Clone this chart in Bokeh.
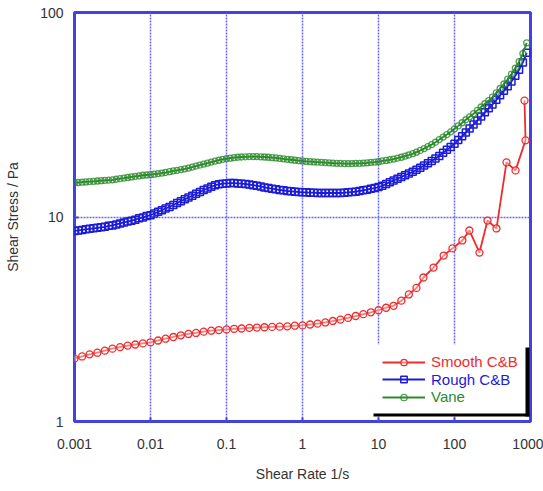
from bokeh.plotting import figure
from bokeh.models import (Range1d, FixedTicker, CustomJSTickFormatter, Legend,
                          LegendItem, BoxAnnotation)
from bokeh.embed import file_html
from bokeh.resources import INLINE

# ---- data ----
shear_rate = [
    0.001, 0.00112, 0.00126, 0.00141, 0.00158, 0.00178, 0.002, 0.00224, 0.00251, 0.00282,
    0.00316, 0.00355, 0.00398, 0.00447, 0.00501, 0.00562, 0.00631, 0.00708, 0.00794, 0.00891,
    0.01, 0.0112, 0.0126, 0.0141, 0.0158, 0.0178, 0.02, 0.0224, 0.0251, 0.0282,
    0.0316, 0.0355, 0.0398, 0.0447, 0.0501, 0.0562, 0.0631, 0.0708, 0.0794, 0.0891,
    0.1, 0.112, 0.126, 0.141, 0.158, 0.178, 0.2, 0.224, 0.251, 0.282,
    0.316, 0.355, 0.398, 0.447, 0.501, 0.562, 0.631, 0.708, 0.794, 0.891,
    1.0, 1.12, 1.26, 1.41, 1.58, 1.78, 2.0, 2.24, 2.51, 2.82,
    3.16, 3.55, 3.98, 4.47, 5.01, 5.62, 6.31, 7.08, 7.94, 8.91,
    10.0, 11.2, 12.6, 14.1, 15.8, 17.8, 20.0, 22.4, 25.1, 28.2,
    31.6, 35.5, 39.8, 44.7, 50.1, 56.2, 63.1, 70.8, 79.4, 89.1,
    100.0, 112.0, 126.0, 141.0, 158.0, 178.0, 200.0, 224.0, 251.0, 282.0,
    316.0, 355.0, 398.0, 447.0, 501.0, 562.0, 631.0, 708.0, 794.0, 891.0,
]
vane_stress = [
    14.7, 14.75, 14.8, 14.85, 14.9, 14.95, 15.0, 15.05, 15.1, 15.15,
    15.2, 15.3, 15.4, 15.5, 15.6, 15.7, 15.8, 15.9, 16.0, 16.05,
    16.1, 16.2, 16.3, 16.4, 16.5, 16.65, 16.8, 16.9, 17.05, 17.2,
    17.35, 17.55, 17.75, 17.95, 18.15, 18.35, 18.55, 18.75, 18.95, 19.15,
    19.3, 19.4, 19.5, 19.6, 19.65, 19.7, 19.75, 19.75, 19.75, 19.7,
    19.65, 19.6, 19.5, 19.45, 19.35, 19.25, 19.15, 19.05, 18.95, 18.85,
    18.8, 18.7, 18.65, 18.6, 18.55, 18.5, 18.45, 18.4, 18.35, 18.3,
    18.3, 18.25, 18.25, 18.25, 18.3, 18.3, 18.35, 18.4, 18.5, 18.55,
    18.65, 18.8, 18.9, 19.05, 19.2, 19.4, 19.6, 19.85, 20.1, 20.4,
    20.75, 21.15, 21.6, 22.1, 22.6, 23.2, 23.9, 24.6, 25.3, 26.1,
    27.0, 27.9, 28.9, 29.9, 30.9, 32.0, 33.2, 34.5, 35.8, 37.1,
    38.6, 40.5, 42.5, 44.7, 47.2, 50.0, 53.5, 57.5, 63.0, 71.0,
]
rough_stress = [
    8.55, 8.6, 8.65, 8.7, 8.75, 8.8, 8.85, 8.9, 8.95, 9.05,
    9.1, 9.2, 9.3, 9.4, 9.5, 9.6, 9.7, 9.85, 9.95, 10.1,
    10.2, 10.4, 10.6, 10.8, 11.0, 11.2, 11.45, 11.7, 11.95, 12.2,
    12.45, 12.7, 13.0, 13.25, 13.55, 13.8, 14.05, 14.3, 14.45, 14.55,
    14.6, 14.65, 14.65, 14.6, 14.55, 14.5, 14.4, 14.3, 14.2, 14.1,
    13.95, 13.85, 13.75, 13.65, 13.55, 13.5, 13.4, 13.35, 13.3, 13.25,
    13.2, 13.2, 13.15, 13.15, 13.1, 13.1, 13.1, 13.1, 13.1, 13.1,
    13.1, 13.15, 13.2, 13.25, 13.3, 13.4, 13.5, 13.6, 13.75, 13.85,
    14.0, 14.2, 14.5, 14.8, 15.1, 15.4, 15.7, 16.0, 16.3, 16.65,
    17.0, 17.4, 17.85, 18.3, 18.8, 19.3, 19.9, 20.6, 21.3, 22.0,
    22.8, 23.8, 24.8, 25.9, 27.1, 28.3, 29.6, 31.0, 32.5, 34.0,
    35.5, 37.4, 39.4, 41.4, 43.6, 46.0, 49.0, 52.5, 57.0, 63.5,
]
smooth_rate = [
    0.001, 0.00126, 0.00158, 0.002, 0.00251, 0.00316, 0.00398, 0.00501, 0.00631, 0.00794,
    0.01, 0.0126, 0.0158, 0.02, 0.0251, 0.0316, 0.0398, 0.0501, 0.0631, 0.0794,
    0.1, 0.126, 0.158, 0.2, 0.251, 0.316, 0.398, 0.501, 0.631, 0.794,
    1.0, 1.26, 1.58, 2.0, 2.51, 3.16, 3.98, 5.01, 6.31, 7.94,
    10.0, 12.6, 15.8, 20.0, 25.1, 31.6,
    39.0, 53.0, 72.0, 94.0, 127.0, 157.0, 213.0, 272.0, 357.0, 483.0, 635.0, 860.0, 834.0,
]
smooth_stress = [
    2.03, 2.08, 2.13, 2.17, 2.22, 2.27, 2.31, 2.35, 2.38, 2.41,
    2.44, 2.49, 2.54, 2.59, 2.64, 2.68, 2.71, 2.75, 2.78, 2.80,
    2.82, 2.84, 2.85, 2.87, 2.88, 2.89, 2.90, 2.91, 2.92, 2.94,
    2.95, 2.98, 3.01, 3.05, 3.10, 3.15, 3.21, 3.28, 3.35, 3.42,
    3.50, 3.60, 3.68, 3.90, 4.18, 4.50,
    5.06, 5.66, 6.48, 7.02, 7.68, 8.59, 6.70, 9.61, 8.79, 18.5, 16.9, 23.7, 37.1,
]
x_ticks = [0.001, 0.01, 0.1, 1, 10, 100, 1000]
y_ticks = [1, 10, 100]
series_names = ["Smooth C&B", "Rough C&B", "Vane"]
x_title = "Shear Rate 1/s"
y_title = "Shear Stress / Pa"

# ---- styles ----
FRAME_BLUE = "#4242e0"
GRID_BLUE = "#6a6af2"
RED = "#ee2c2c"
BLUE = "#1c1cd8"
GREEN = "#2c8a2c"
FONT = "Liberation Sans"

p = figure(width=543, height=491, x_axis_type="log", y_axis_type="log",
           x_range=Range1d(0.001, 1000), y_range=Range1d(1, 100),
           output_backend="svg", toolbar_location=None,
           min_border_left=74, min_border_right=13, min_border_top=12,
           min_border_bottom=70, background_fill_color="white",
           border_fill_color="white")

p.outline_line_color = FRAME_BLUE
p.outline_line_width = 3

fmt = CustomJSTickFormatter(code="return String(Number(tick.toPrecision(6)));")
for ax, ticks in ((p.xaxis[0], x_ticks), (p.yaxis[0], y_ticks)):
    ax.ticker = FixedTicker(ticks=ticks, minor_ticks=[])
    ax.formatter = fmt
    ax.axis_line_color = None
    ax.major_tick_in = 4
    ax.major_tick_out = 0
    ax.major_tick_line_color = FRAME_BLUE
    ax.major_tick_line_width = 2
    ax.minor_tick_line_color = None
    ax.major_label_text_font = FONT
    ax.major_label_text_font_size = "14px"
    ax.major_label_text_color = "#333333"
    ax.axis_label_text_font = FONT
    ax.axis_label_text_font_size = "14px"
    ax.axis_label_text_font_style = "normal"
    ax.axis_label_text_color = "#333333"

p.xaxis.axis_label = x_title
p.yaxis.axis_label = y_title
p.xaxis.major_label_standoff = 17
p.xaxis.axis_label_standoff = 14
p.yaxis.major_label_standoff = 11
p.yaxis.axis_label_standoff = 16

p.xgrid.ticker = FixedTicker(ticks=x_ticks, minor_ticks=[])
p.ygrid.ticker = FixedTicker(ticks=y_ticks, minor_ticks=[])
for g in (p.xgrid[0], p.ygrid[0]):
    g.grid_line_color = GRID_BLUE
    g.grid_line_dash = "2 1"
    g.grid_line_width = 1.5

# ---- series ----
r_line = p.line(smooth_rate, smooth_stress, color=RED, line_width=1.8)
r_mark = p.scatter(smooth_rate, smooth_stress, marker="circle", size=7,
                   line_color=RED, fill_color="white", fill_alpha=0.4, line_width=1.3)
b_line = p.line(shear_rate, rough_stress, color=BLUE, line_width=1.8)
b_mark = p.scatter(shear_rate, rough_stress, marker="square", size=7,
                   line_color=BLUE, fill_color=None, line_width=1.5)
g_line = p.line(shear_rate, vane_stress, color=GREEN, line_width=1.8)
g_mark = p.scatter(shear_rate, vane_stress, marker="circle", size=6,
                   line_color=GREEN, fill_color=None, line_width=1.3, line_alpha=0.8)

# ---- legend panel with black drop shadow (screen units, frame-relative, y up) ----
def screen_box(l, r, t, b, color):
    return BoxAnnotation(left=l, right=r, top=t, bottom=b,
                         left_units="screen", right_units="screen",
                         top_units="screen", bottom_units="screen",
                         fill_color=color, fill_alpha=1, line_color=None)

p.add_layout(screen_box(296, 452, 77, 8, "white"))      # panel
p.add_layout(screen_box(451, 455, 74, 5, "black"))      # right shadow
p.add_layout(screen_box(299, 455, 8, 5, "black"))       # bottom shadow

entries = [(series_names[0], [r_line, r_mark], RED),
           (series_names[1], [b_line, b_mark], BLUE),
           (series_names[2], [g_line, g_mark], GREEN)]
for i, (name, rs, col) in enumerate(entries):
    lg = Legend(items=[LegendItem(label=name, renderers=rs)],
                location=(308, 51 - 17.5 * i),
                border_line_color=None, background_fill_alpha=0,
                padding=0, margin=0, spacing=0,
                glyph_width=43, glyph_height=16, label_height=16,
                label_standoff=6, label_text_font=FONT,
                label_text_font_size="15px", label_text_color=col)
    p.add_layout(lg)

open("out.html", "w").write(file_html(p, INLINE))
